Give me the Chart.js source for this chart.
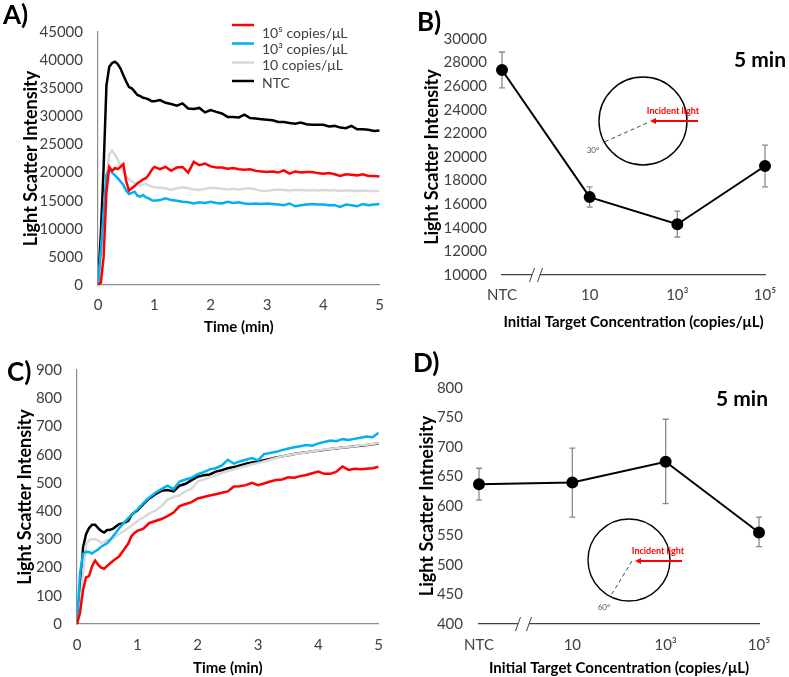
<!DOCTYPE html>
<html>
<head>
<meta charset="utf-8">
<title>Light scatter intensity</title>
<script src="https://cdn.jsdelivr.net/npm/chart.js@4.4.0/dist/chart.umd.min.js"></script>
<style>
  body { margin: 0; background: #fff; }
  #fig { position: relative; width: 789px; height: 677px; }
  #fig canvas { position: absolute; }
  .lbl { position: absolute; font: bold 26px Lato, sans-serif; line-height: 1; color: #000; }
</style>
</head>
<body>
<div id="fig">
  <canvas id="chartA" width="395" height="340" style="left:0;top:0"></canvas>
  <canvas id="chartB" width="394" height="340" style="left:395px;top:0"></canvas>
  <canvas id="chartC" width="395" height="337" style="left:0;top:340px"></canvas>
  <canvas id="chartD" width="394" height="337" style="left:395px;top:340px"></canvas>
  <div class="lbl" style="left:3px;top:1px">A)</div>
  <div class="lbl" style="left:417px;top:8px">B)</div>
  <div class="lbl" style="left:7px;top:358px">C)</div>
  <div class="lbl" style="left:413px;top:349px">D)</div>
</div>
<script>
// time axis (min) shared by panels A and C
const timeMin = [0,0.05,0.1,0.15,0.2,0.25,0.3,0.35,0.4,0.45,
  0.5,0.55,0.6,0.65,0.7,0.75,0.8,0.85,0.9,0.95,
  1.0,1.1,1.2,1.3,1.4,1.5,1.6,1.7,1.8,1.9,
  2.0,2.1,2.2,2.3,2.4,2.5,2.6,2.7,2.8,2.9,
  3.0,3.1,3.2,3.3,3.4,3.5,3.6,3.7,3.8,3.9,
  4.0,4.1,4.2,4.3,4.4,4.5,4.6,4.7,4.8,4.9,
  5.0];

const seriesNames = ['10\u2075 copies/\u03bcL', '10\u00b3 copies/\u03bcL', '10 copies/\u03bcL', 'NTC'];
const seriesColors = ['#ff0000', '#00b0f0', '#d9d9d9', '#000000'];

// panel A (30 degrees)
const red5A = [0,400,5000,16500,21000,20300,20800,20600,21000,21500,
  18500,16800,17200,17600,18100,18400,18800,19000,19600,20400,
  21000,20600,21000,20300,20900,21000,20000,21900,21300,21600,
  21100,20900,20900,20700,20800,20600,20500,20600,20300,20200,
  20100,20200,20000,20400,19800,20200,20000,20100,20100,19900,
  19800,19900,19700,19400,19700,19600,19500,19700,19400,19400,
  19300];
const blue3A = [0,6000,13000,19500,20700,20000,19500,19000,18400,17800,
  16800,16200,16400,16600,15900,15700,16000,15600,15400,15100,
  15000,15100,15400,15100,15000,14800,14700,14500,14700,14600,
  14800,14600,14500,14800,14600,14700,14500,14400,14500,14400,
  14500,14400,14300,14200,14500,14000,14200,14300,14400,14300,
  14300,14200,14200,13900,14300,14200,14000,14400,14200,14300,
  14400];
const gray10A = [0,5000,12000,19000,23300,23900,23200,22300,21200,20200,
  19200,18800,18400,18100,17800,17700,17900,18000,17700,17500,
  17400,17300,17200,16900,17200,17400,17200,17000,16900,17100,
  17300,17200,17100,17000,17100,17000,17100,17200,17000,16700,
  16700,16900,17000,16900,16800,16900,16900,16800,16900,16800,
  16900,16800,16900,16700,16800,16800,16700,16800,16700,16700,
  16700];
const ntcA = [0,9000,21000,35500,38800,39500,39700,39300,38500,37300,
  36200,35200,35000,34400,33800,33600,33300,33200,33000,32700,
  32700,32900,32400,32200,31900,32300,31400,31300,31500,30700,
  31100,30800,30500,29900,29900,29800,30300,29700,29600,29500,
  29400,29300,29000,29000,28800,28700,28900,28600,28500,28500,
  28500,28200,28300,28000,27900,28300,27700,27700,27600,27400,
  27500];

// panel C (60 degrees)
const red5C = [0,40,120,165,170,205,225,210,200,196,
  206,215,224,232,240,255,270,285,310,322,
  330,338,358,365,372,382,395,418,425,432,
  445,450,455,460,465,470,487,488,492,500,
  492,498,505,510,512,520,518,524,528,534,
  540,532,532,540,558,546,550,548,550,552,
  557];
const blue3C = [0,180,248,256,255,250,258,264,274,280,
  286,298,312,325,340,352,364,375,386,396,
  405,428,448,465,478,490,478,505,512,518,
  531,538,548,552,562,582,568,576,582,588,
  580,602,606,610,616,622,626,630,634,632,
  640,645,650,648,655,652,656,660,664,662,
  678];
const gray10C = [0,60,180,280,298,300,300,296,288,290,
  298,300,304,312,320,326,332,340,348,356,
  365,378,392,402,418,440,450,456,470,480,
  505,512,520,528,535,542,548,554,560,566,
  570,576,582,588,594,598,602,605,608,612,
  615,618,620,623,625,628,630,633,635,638,
  642];
const ntcC = [0,110,270,318,340,352,352,340,330,324,
  333,334,338,346,354,356,360,366,385,395,
  402,425,445,460,472,475,470,490,497,510,
  522,527,530,540,545,552,556,562,568,572,
  576,580,585,590,594,598,602,606,608,612,
  614,617,620,622,625,627,630,632,634,637,
  640];

// panels B and D: value at 5 min vs concentration
const concLabels = ['NTC', '10', '10\u00b3', '10\u2075'];
const at5min30 = [27370, 16600, 14300, 19240];
const err30Low = [25850, 15760, 13220, 17460];
const err30High = [28900, 17460, 15420, 21000];
const at5min60 = [637, 640, 675, 555];
const err60Low = [610, 581, 604, 531];
const err60High = [664, 698, 747, 581];

Chart.defaults.font.family = 'Lato, "Open Sans", sans-serif';
Chart.defaults.font.size = 15;
Chart.defaults.color = '#404040';

const pts = (t, v) => t.map((x, i) => ({x: x, y: v[i]}));
const plain = v => String(v);

function timeChart(id, seriesList, yMax, yStep, box, extraPlugins) {
  return new Chart(document.getElementById(id), {
    type: 'line',
    data: {
      datasets: seriesList.map((s, i) => ({
        label: seriesNames[i],
        data: pts(timeMin, s),
        borderColor: seriesColors[i],
        borderWidth: 2.5,
        pointRadius: 0,
        tension: 0
      }))
    },
    options: {
      responsive: false,
      animation: false,
      layout: {padding: {left: 0, top: box.top, right: box.right, bottom: 0}},
      plugins: {legend: {display: false}, tooltip: {enabled: false}},
      scales: {
        x: {
          type: 'linear', min: 0, max: 5,
          ticks: {stepSize: 1, padding: box.xTickPad, maxRotation: 0, callback: plain},
          grid: {display: false, drawTicks: false},
          border: {color: '#8c8c8c', width: 1.2},
          title: {display: true, text: 'Time (min)', color: '#000', font: {weight: 'bold'}, padding: {top: 0, bottom: box.xTitlePad}},
          afterFit: s => { s.height = box.xHeight; }
        },
        y: {
          min: 0, max: yMax,
          ticks: {stepSize: yStep, padding: 15, callback: plain},
          grid: {display: false, drawTicks: false},
          border: {color: '#8c8c8c', width: 1.2},
          title: {display: true, text: 'Light Scatter Intensity', color: '#000', font: {weight: 'bold', size: 18}, padding: {top: box.yTitlePad, bottom: 0}},
          afterFit: s => { s.width = box.yWidth; }
        }
      }
    },
    plugins: extraPlugins
  });
}

const legendA = {
  id: 'legendA',
  afterDraw(chart) {
    const ctx = chart.ctx;
    const lineY = [25, 43.5, 62.5, 81];
    const textY = [33, 49.5, 65.5, 83];
    ctx.save();
    ctx.font = '14px Lato, sans-serif';
    ctx.textBaseline = 'middle';
    chart.data.datasets.forEach((ds, i) => {
      ctx.strokeStyle = ds.borderColor;
      ctx.lineWidth = 2.5;
      ctx.beginPath();
      ctx.moveTo(232, lineY[i]);
      ctx.lineTo(254, lineY[i]);
      ctx.stroke();
      ctx.fillStyle = '#404040';
      ctx.fillText(ds.label, 262, textY[i]);
    });
    ctx.restore();
  }
};

timeChart('chartA', [red5A, blue3A, gray10A, ntcA], 45000, 5000,
  {top: 32, right: 10, xHeight: 55, yWidth: 98, xTickPad: 11, xTitlePad: 4, yTitlePad: 20}, [legendA]);
timeChart('chartC', [red5C, blue3C, gray10C, ntcC], 900, 100,
  {top: 30, right: 16, xHeight: 53, yWidth: 77, xTickPad: 12, xTitlePad: 0, yTitlePad: 14}, []);

// error bars, axis break, "5 min" tag and the scattering sketch
function decorPlugin(low, high, d) {
  return {
    id: 'decor',
    beforeDatasetsDraw(chart) {
      const {ctx, scales: {x, y}} = chart;
      ctx.save();
      ctx.strokeStyle = '#8c8c8c';
      ctx.lineWidth = 1.3;
      low.forEach((lo, i) => {
        const px = x.getPixelForValue(i);
        const y1 = y.getPixelForValue(lo), y2 = y.getPixelForValue(high[i]);
        ctx.beginPath();
        ctx.moveTo(px, y1); ctx.lineTo(px, y2);
        ctx.moveTo(px - 3, y1); ctx.lineTo(px + 3, y1);
        ctx.moveTo(px - 3, y2); ctx.lineTo(px + 3, y2);
        ctx.stroke();
      });
      ctx.restore();
    },
    afterDraw(chart) {
      const ctx = chart.ctx;
      const yb = chart.chartArea.bottom;
      ctx.save();
      // axis break
      ctx.fillStyle = '#fff';
      ctx.fillRect(d.brk[0], yb - 2, d.brk[1] - d.brk[0], 4);
      ctx.strokeStyle = '#404040';
      ctx.lineWidth = 1;
      d.brk.forEach(bx => {
        ctx.beginPath();
        ctx.moveTo(bx - 2.5, yb + 7);
        ctx.lineTo(bx + 2.5, yb - 7);
        ctx.stroke();
      });
      // "5 min"
      ctx.fillStyle = '#000';
      ctx.font = 'bold 21px Lato, sans-serif';
      ctx.textAlign = 'center';
      ctx.textBaseline = 'middle';
      ctx.fillText('5 min', d.tag[0], d.tag[1]);
      // sketch
      ctx.strokeStyle = '#000';
      ctx.lineWidth = 1.4;
      ctx.beginPath();
      ctx.arc(d.cx, d.cy, d.r, 0, Math.PI * 2);
      ctx.stroke();
      ctx.setLineDash([4, 3]);
      ctx.strokeStyle = '#333';
      ctx.lineWidth = 0.9;
      ctx.beginPath();
      ctx.moveTo(d.dash[0], d.dash[1]);
      ctx.lineTo(d.dash[2], d.dash[3]);
      ctx.stroke();
      ctx.setLineDash([]);
      ctx.strokeStyle = '#ff0000';
      ctx.fillStyle = '#ff0000';
      ctx.lineWidth = 1.8;
      ctx.beginPath();
      ctx.moveTo(d.arrow[0], d.arrow[2]);
      ctx.lineTo(d.arrow[1] + 4, d.arrow[2]);
      ctx.stroke();
      ctx.beginPath();
      ctx.moveTo(d.arrow[1], d.arrow[2]);
      ctx.lineTo(d.arrow[1] + 6, d.arrow[2] - 3);
      ctx.lineTo(d.arrow[1] + 6, d.arrow[2] + 3);
      ctx.closePath();
      ctx.fill();
      ctx.font = 'bold 9px Lato, sans-serif';
      ctx.fillText('Incident light', d.inc[0], d.inc[1]);
      ctx.fillStyle = '#555';
      ctx.font = '8px Lato, sans-serif';
      ctx.fillText(d.angle, d.ang[0], d.ang[1]);
      ctx.restore();
    }
  };
}

function concChart(id, vals, low, high, yMin, yMax, yStep, yTitle, box, d) {
  return new Chart(document.getElementById(id), {
    type: 'line',
    data: {
      labels: concLabels,
      datasets: [{
        data: vals,
        borderColor: '#000',
        backgroundColor: '#000',
        borderWidth: 2,
        pointRadius: 5,
        tension: 0
      }]
    },
    options: {
      responsive: false,
      animation: false,
      layout: {padding: {left: 0, top: box.top, right: box.right, bottom: 0}},
      plugins: {legend: {display: false}, tooltip: {enabled: false}},
      scales: {
        x: {
          type: 'category', offset: false,
          ticks: {padding: box.xTickPad, maxRotation: 0, autoSkip: false},
          grid: {display: false, drawTicks: false},
          border: {color: '#404040', width: 1.2},
          title: {display: true, text: 'Initial Target Concentration (copies/\u03bcL)', color: '#000', font: {weight: 'bold'}, padding: {top: 0, bottom: box.xTitlePad}},
          afterFit: s => { s.height = box.xHeight; }
        },
        y: {
          min: yMin, max: yMax,
          ticks: {stepSize: yStep, padding: box.yTickPad, callback: plain},
          grid: {display: false, drawTicks: false},
          border: {display: false},
          title: {display: true, text: yTitle, color: '#000', font: {weight: 'bold', size: 18}, padding: {top: box.yTitlePad, bottom: 0}},
          afterFit: s => { s.width = box.yWidth; }
        }
      }
    },
    plugins: [decorPlugin(low, high, d)]
  });
}

concChart('chartB', at5min30, err30Low, err30High, 10000, 30000, 2000, 'Light Scatter Intensity',
  {top: 39, right: 24, xHeight: 65, yWidth: 107, xTickPad: 11, xTitlePad: 9, yTickPad: 15, yTitlePad: 26},
  {brk: [137, 145], tag: [365, 60], cx: 248, cy: 121, r: 44, dash: [252, 123, 207, 143],
   arrow: [303, 255, 121], inc: [278, 111], angle: '30\u00b0', ang: [198, 150]});

concChart('chartD', at5min60, err60Low, err60High, 400, 800, 50, 'Light Scatter Intneisity',
  {top: 48, right: 30, xHeight: 53, yWidth: 84, xTickPad: 12, xTitlePad: 0, yTickPad: 16, yTitlePad: 21},
  {brk: [123, 134], tag: [347, 59], cx: 234, cy: 220, r: 41, dash: [237, 221, 215, 257],
   arrow: [287, 240, 221], inc: [263, 211], angle: '60\u00b0', ang: [209, 267]});
</script>
</body>
</html>
